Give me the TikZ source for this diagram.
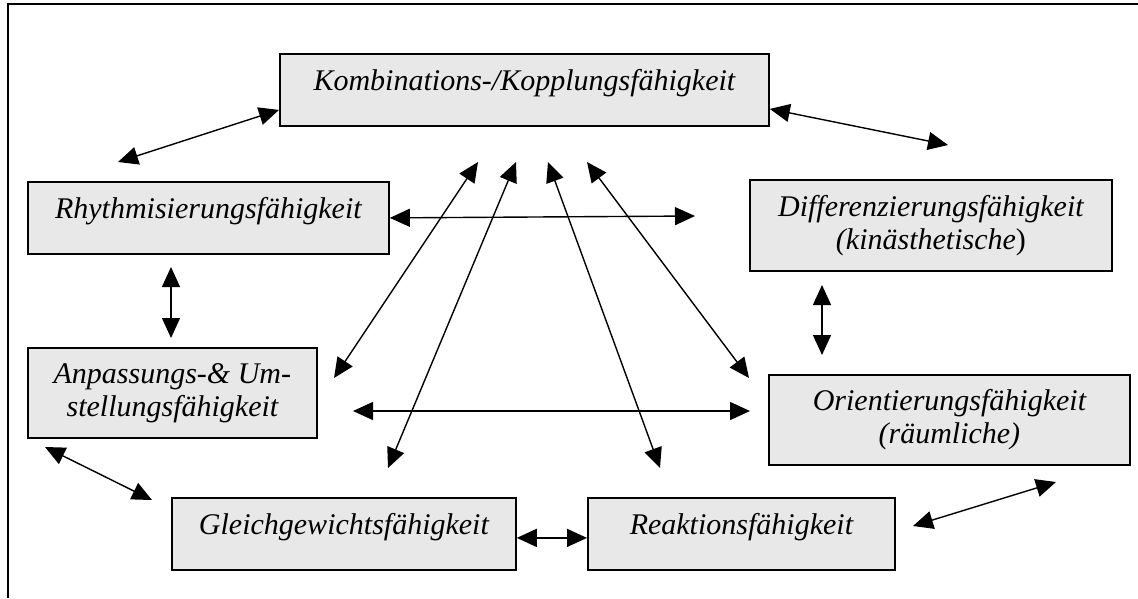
\documentclass[tikz,border=0pt]{standalone}
\usepackage{fontspec}
\setmainfont{Liberation Serif}
\usepackage{tikz}
\usetikzlibrary{positioning, arrows.meta}

\begin{document}
\begin{tikzpicture}[
    x=1pt, y=-1pt,
    box/.style={rectangle, draw=black, line width=1.8pt, fill=black!9, inner sep=0pt, anchor=north west, align=center, font=\fontsize{30}{33}\selectfont\itshape},
    oneline/.style={box, text height=21pt, text depth=19pt},
    link/.style={line width=1.4pt, {Triangle[length=20pt,width=18pt]}-{Triangle[length=20pt,width=18pt]}}
]
    \useasboundingbox (0,0) rectangle (1138,598);
    \draw[line width=1.5pt] (8,598) -- (8,4) -- (1138,4);

    % Abilities
    \node[oneline, minimum width=489pt, minimum height=72pt] (Kombi) at (279,53) {Kombinations-/Kopplungsfähigkeit};
    \node[oneline, minimum width=361pt, minimum height=72pt] (Rhythm) at (27,181) {Rhythmisierungsfähigkeit};
    \node[box, minimum width=289pt, minimum height=90pt] (Anpass) at (27,347) {Anpassungs-\& Um-\\stellungsfähigkeit};
    \node[oneline, minimum width=344pt, minimum height=72pt] (Gleich) at (171,497) {Gleichgewichtsfähigkeit};
    \node[oneline, minimum width=307pt, minimum height=72pt] (Reakt) at (587,497) {Reaktionsfähigkeit};
    \node[box, minimum width=362pt, minimum height=91pt] (Diff) at (749,179) {Differenzierungsfähigkeit\\(kinästhetische\textup{)}};
    \node[box, minimum width=361pt, minimum height=90pt] (Orient) at (768,374) {Orientierungsfähigkeit\\(räumliche)};

    % Free arrow ends
    \coordinate (rhyTop)   at (118,162);
    \coordinate (diffTop)  at (948,145);
    \coordinate (rhyLow)   at (171,267);
    \coordinate (anpUp)    at (171,338);
    \coordinate (diffLow)  at (822,285);
    \coordinate (oriUp)    at (822,355);
    \coordinate (midRight) at (695,216);
    \coordinate (anpRight) at (353,411);
    \coordinate (oriLeft)  at (750,411);
    \coordinate (anpLow)   at (45,447);
    \coordinate (gleLeft)  at (152,500);
    \coordinate (reaRight) at (913,526);
    \coordinate (oriLow)   at (1056,482);
    \coordinate (topA) at (478,162);
    \coordinate (topB) at (516,162);
    \coordinate (topC) at (548,162);
    \coordinate (topD) at (587,162);
    \coordinate (anpDiag) at (334,378);
    \coordinate (gleUp)   at (388,468);
    \coordinate (reaUp)   at (660,468);
    \coordinate (oriDiag) at (749,378);

    % Connections
    \draw[link] ([yshift=-20pt]Kombi.west) -- (rhyTop);
    \draw[link] ([yshift=-19pt]Kombi.east) -- (diffTop);
    \draw[link] (rhyLow) -- (anpUp);
    \draw[link] (diffLow) -- (oriUp);
    \draw[link] (Rhythm.east) -- (midRight);
    \draw[link] (anpRight) -- (oriLeft);
    \draw[link] (anpLow) -- (gleLeft);
    \draw[link] (reaRight) -- (oriLow);
    \draw[link] ([yshift=-4pt]Gleich.east) -- ([yshift=-4pt]Reakt.west);

    \draw[link] (topA) -- (anpDiag);
    \draw[link] (topB) -- (gleUp);
    \draw[link] (topC) -- (reaUp);
    \draw[link] (topD) -- (oriDiag);

\end{tikzpicture}
\end{document}
